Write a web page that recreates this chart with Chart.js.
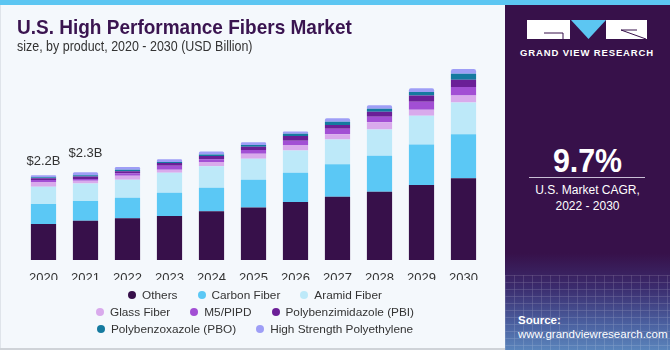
<!DOCTYPE html>
<html>
<head>
<meta charset="utf-8">
<script src="https://cdn.jsdelivr.net/npm/chart.js@4.4.1/dist/chart.umd.min.js"></script>
<style>
  html, body { margin: 0; padding: 0; }
  body { width: 670px; height: 350px; position: relative; overflow: hidden; background: #f4f8fc; font-family: "Liberation Sans", Arial, sans-serif; }
  #topbar { position: absolute; left: 0; top: 0; width: 670px; height: 5px; background: #5cc6f2; }
  #bottomline { position: absolute; left: 0; top: 348px; width: 505px; height: 2px; background: #cfd3d8; }
  #leftline { position: absolute; left: 0; top: 5px; width: 1px; height: 345px; background: #dfe4ea; }
  #title { position: absolute; left: 17px; top: 15px; font-size: 21px; font-weight: 900; color: #3a1450; white-space: nowrap; transform: scaleX(0.905); transform-origin: left top; }
  #subtitle { position: absolute; left: 17px; top: 38px; font-size: 14px; color: #333; white-space: nowrap; transform: scaleX(0.89); transform-origin: left top; }
  #chartwrap { position: absolute; left: 0; top: 0; width: 505px; height: 350px; }
  #legend { position: absolute; left: 0; width: 510px; top: 286px; font-size: 11.8px; color: #333; }
  .lrow { display: flex; justify-content: center; height: 17px; align-items: center; }
  .litem { display: flex; align-items: center; margin: 0 10px; white-space: nowrap; }
  .ldot { width: 8px; height: 8px; border-radius: 50%; margin-right: 6px; }
  #panel { position: absolute; left: 505px; top: 5px; width: 165px; height: 345px;
    background: linear-gradient(to bottom, #37114a 0%, #37114a 72%, #3b2c6e 82%, #4a5e9e 92%, #5a84bb 100%); overflow: hidden; }
  #grid { position: absolute; left: 0; top: 270px; width: 165px; height: 75px; opacity: 0.25;
    background-image: repeating-linear-gradient(to right, rgba(255,255,255,0.5) 0 1px, transparent 1px 9px), repeating-linear-gradient(to bottom, rgba(255,255,255,0.5) 0 1px, transparent 1px 7px); }
  #gvr { position: absolute; left: 12px; top: 42px; width: 140px; text-align: center; color: #fff; font-weight: bold; font-size: 9.5px; letter-spacing: 0.85px; white-space: nowrap; }
  #cagr { position: absolute; left: 0; width: 165px; top: 137px; text-align: center; color: #fff; font-weight: bold; font-size: 33px; transform: scaleX(0.92); }
  #cline { position: absolute; left: 24px; top: 172px; width: 116px; height: 1px; background: #c9bfd6; }
  #clabel { position: absolute; left: 0; width: 165px; top: 177px; text-align: center; color: #fff; font-size: 12px; line-height: 16px; }
  #src { position: absolute; left: 13px; top: 308px; color: #fff; font-size: 11.5px; line-height: 14px; }
</style>
</head>
<body>
<div id="topbar"></div>
<div id="leftline"></div>
<div id="bottomline"></div>
<div id="chartwrap"><canvas id="c" width="505" height="350"></canvas></div>
<div id="title">U.S. High Performance Fibers Market</div>
<div id="subtitle">size, by product, 2020 - 2030 (USD Billion)</div>
<div id="legend"></div>
<div id="panel">
  <div id="grid"></div>
  <svg style="position:absolute;left:22px;top:15px" width="121" height="20" viewBox="0 0 121 20">
    <rect x="0" y="0" width="43" height="19" fill="#fff"/>
    <polyline points="17,13 36,13 36,19" fill="none" stroke="#37114a" stroke-width="1"/>
    <polygon points="44,0 79,0 61.5,19" fill="#5cc6f2"/>
    <rect x="79" y="0" width="41" height="19" fill="#fff"/>
    <line x1="94" y1="10" x2="119" y2="19" stroke="#37114a" stroke-width="1"/>
    <line x1="94" y1="10" x2="110" y2="10" stroke="#37114a" stroke-width="1"/>
  </svg>
  <div id="gvr">GRAND VIEW RESEARCH</div>
  <div id="cagr">9.7%</div>
  <div id="cline"></div>
  <div id="clabel">U.S. Market CAGR,<br>2022 - 2030</div>
  <div id="src"><b>Source:</b><br>www.grandviewresearch.com</div>
</div>
<script>
const years = ["2020","2021","2022","2023","2024","2025","2026","2027","2028","2029","2030"];
const others      = [0.93, 1.02, 1.08, 1.14, 1.26, 1.36, 1.50, 1.64, 1.77, 1.94, 2.12];
const carbonFiber = [0.52, 0.51, 0.53, 0.60, 0.61, 0.72, 0.76, 0.84, 0.93, 1.05, 1.14];
const aramidFiber = [0.45, 0.45, 0.47, 0.52, 0.56, 0.54, 0.58, 0.64, 0.68, 0.75, 0.82];
const glassFiber  = [0.12, 0.07, 0.10, 0.08, 0.11, 0.13, 0.14, 0.14, 0.19, 0.15, 0.18];
const m5pipd      = [0.05, 0.05, 0.07, 0.10, 0.07, 0.10, 0.11, 0.14, 0.14, 0.21, 0.22];
const pbi         = [0.05, 0.06, 0.05, 0.07, 0.085, 0.085, 0.12, 0.10, 0.13, 0.16, 0.19];
const pbo         = [0.025, 0.035, 0.04, 0.03, 0.035, 0.045, 0.06, 0.08, 0.08, 0.09, 0.155];
const hspe        = [0.05, 0.08, 0.07, 0.07, 0.08, 0.07, 0.06, 0.095, 0.09, 0.10, 0.12];
const totalLabels = ["$2.2B", "$2.3B", "", "", "", "", "", "", "", "", ""];

const seriesNames = ["Others","Carbon Fiber","Aramid Fiber","Glass Fiber","M5/PIPD","Polybenzimidazole (PBI)","Polybenzoxazole (PBO)","High Strength Polyethylene"];
const seriesData = [others, carbonFiber, aramidFiber, glassFiber, m5pipd, pbi, pbo, hspe];
const seriesColors = ["#37104a","#5bc8f5","#bde9f9","#d9aaec","#a24fd4","#6b1f97","#157a9f","#9e9ef6"];
const legendRows = [[0,1,2],[3,4,5],[6,7]];

const datasets = seriesNames.map((name, i) => ({
  label: name,
  data: seriesData[i],
  backgroundColor: seriesColors[i],
  borderWidth: 0,
  borderRadius: i === seriesNames.length - 1 ? {topLeft: 3, topRight: 3, bottomLeft: 0, bottomRight: 0} : 0,
  borderSkipped: false,
  barPercentage: 0.6,
  categoryPercentage: 1.0
}));

const totalsPlugin = {
  id: 'totals',
  afterDatasetsDraw(chart) {
    const ctx = chart.ctx;
    const last = chart.getDatasetMeta(chart.data.datasets.length - 1);
    ctx.save();
    ctx.font = '13px "Liberation Sans", Arial, sans-serif';
    ctx.fillStyle = '#333';
    ctx.textAlign = 'center';
    ctx.textBaseline = 'middle';
    const offs = [14, 19];
    totalLabels.forEach((t, i) => {
      if (!t) return;
      const el = last.data[i];
      ctx.fillText(t, el.x, el.y - (offs[i] || 14));
    });
    ctx.restore();
  }
};

new Chart(document.getElementById('c'), {
  type: 'bar',
  data: { labels: years, datasets },
  options: {
    responsive: false,
    animation: false,
    events: [],
    layout: { padding: { left: 22.5, right: 20.5, top: 47.7, bottom: 70 } },
    plugins: { legend: { display: false }, tooltip: { enabled: false } },
    scales: {
      x: {
        stacked: true,
        grid: { display: false },
        border: { display: false },
        ticks: { color: '#333', font: { size: 13, family: '"Liberation Sans", Arial, sans-serif' }, padding: 3, maxRotation: 0 },
        afterFit(s) { s.height = 20; }
      },
      y: {
        stacked: true,
        display: false,
        min: 0,
        max: 5.5
      }
    }
  },
  plugins: [totalsPlugin]
});

const legend = document.getElementById('legend');
legendRows.forEach(row => {
  const r = document.createElement('div');
  r.className = 'lrow';
  row.forEach(i => {
    const it = document.createElement('div');
    it.className = 'litem';
    const d = document.createElement('span');
    d.className = 'ldot';
    d.style.background = seriesColors[i];
    const t = document.createElement('span');
    t.textContent = seriesNames[i];
    it.appendChild(d); it.appendChild(t);
    r.appendChild(it);
  });
  legend.appendChild(r);
});
</script>
</body>
</html>
